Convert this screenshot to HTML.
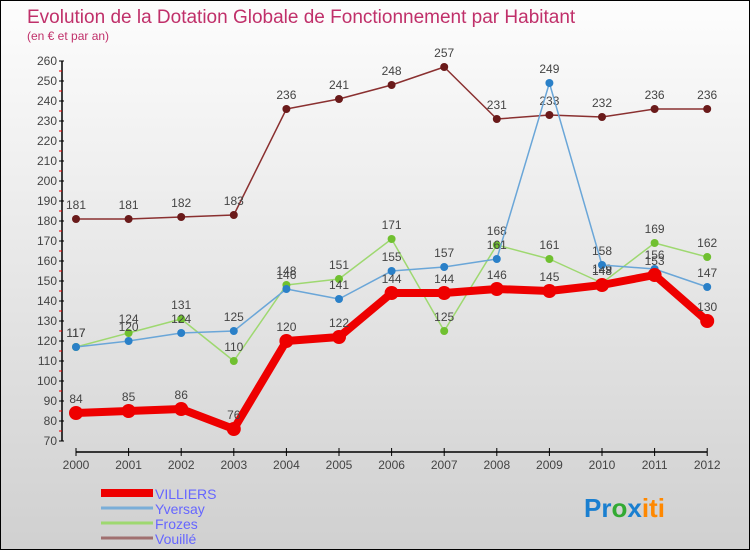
<!DOCTYPE html>
<html><head><meta charset="utf-8"><style>
body{margin:0}
#wrap{width:748px;height:548px;border:1px solid #000;background:linear-gradient(#fdfdfd,#d0d0d0);position:relative;overflow:hidden;font-family:"Liberation Sans",sans-serif}
</style></head><body>
<div id="wrap">
<svg id="c" width="748" height="548">
<text x="26" y="22" font-size="19" fill="#c0306a">Evolution de la Dotation Globale de Fonctionnement par Habitant</text>
<text x="26" y="39" font-size="12" fill="#c0306a">(en € et par an)</text>
<g id="axes"></g><g id="series"></g>
<g>
<rect x="100" y="488" width="52" height="8" fill="#e00"/>
<text x="154" y="498" font-size="14" fill="#66f">VILLIERS</text>
<line x1="100" y1="507" x2="152" y2="507" stroke="#7aaed8" stroke-width="3"/>
<text x="154" y="513" font-size="14" fill="#66f">Yversay</text>
<line x1="100" y1="522" x2="152" y2="522" stroke="#9ed870" stroke-width="3"/>
<text x="154" y="528" font-size="14" fill="#66f">Frozes</text>
<line x1="100" y1="537" x2="152" y2="537" stroke="#a07070" stroke-width="3"/>
<text x="154" y="543" font-size="14" fill="#66f">Vouillé</text>
</g>
<text x="583" y="516" font-size="26" font-weight="bold"><tspan fill="#1a7fd0">Pr</tspan><tspan fill="#3a3">o</tspan><tspan fill="#1a7fd0">x</tspan><tspan fill="#f80">iti</tspan></text>
</svg></div>
<script>
const years=["2000","2001","2002","2003","2004","2005","2006","2007","2008","2009","2010","2011","2012"];
const villiers=[84,85,86,76,120,122,144,144,146,145,148,153,130];
const yversay=[117,120,124,125,146,141,155,157,161,249,158,156,147];
const frozes=[117,124,131,110,148,151,171,125,168,161,149,169,162];
const vouille=[181,181,182,183,236,241,248,257,231,233,232,236,236];
const yTicks=[70,80,90,100,110,120,130,140,150,160,170,180,190,200,210,220,230,240,250,260];
const NS="http://www.w3.org/2000/svg";
const X=i=>75+i*52.6, Y=v=>60+(260-v)*2;
function mk(t,a,p){const e=document.createElementNS(NS,t);for(const k in a)e.setAttribute(k,a[k]);p.appendChild(e);return e;}
const ax=document.getElementById('axes'), sg=document.getElementById('series');
let l=mk('line',{x1:61,y1:Y(260),x2:61,y2:Y(70),stroke:'#000','stroke-width':1.5},ax);


yTicks.forEach(v=>{
 mk('line',{x1:58,y1:Y(v),x2:63,y2:Y(v),stroke:'#000'},ax);
 if(v<260) mk('line',{x1:58,y1:Y(v+5),x2:61,y2:Y(v+5),stroke:'#e00'},ax);
 const t=mk('text',{x:56,y:Y(v)+4,'font-size':12,fill:'#444','text-anchor':'end'},ax);t.textContent=v;
 
 
});
l=mk('line',{x1:X(0),y1:451,x2:X(12),y2:451,stroke:'#000','stroke-width':1.5},ax);


years.forEach((y,i)=>{
 mk('line',{x1:X(i),y1:447,x2:X(i),y2:455,stroke:'#000'},ax);
 const t=mk('text',{x:X(i),y:468,'font-size':12,fill:'#444','text-anchor':'middle'},ax);t.textContent=y;
 
 
});
function series(d,name,col,dot,w,r){
 const g=mk('g',{},sg);
 
 
 mk('polyline',{points:d.map((v,i)=>X(i)+','+Y(v)).join(' '),fill:'none',stroke:col,'stroke-width':w,'stroke-linejoin':'round'},g);
 d.forEach((v,i)=>{
  const c=mk('circle',{cx:X(i),cy:Y(v),r:r,fill:dot},g);
  
  
  const t=mk('text',{x:X(i),y:Y(v)-10,'font-size':12,fill:'#444','text-anchor':'middle'},g);t.textContent=v;
  
  
 });
}
series(vouille,'vouille','#8a3030','#6a1a1a',1.5,4);
series(frozes,'frozes','#9ed870','#70c030',1.5,4);
series(yversay,'yversay','#6aa6d8','#2a80c8',1.5,4);
series(villiers,'villiers','#e00','#e00',8,7);
</script>
</body></html>
